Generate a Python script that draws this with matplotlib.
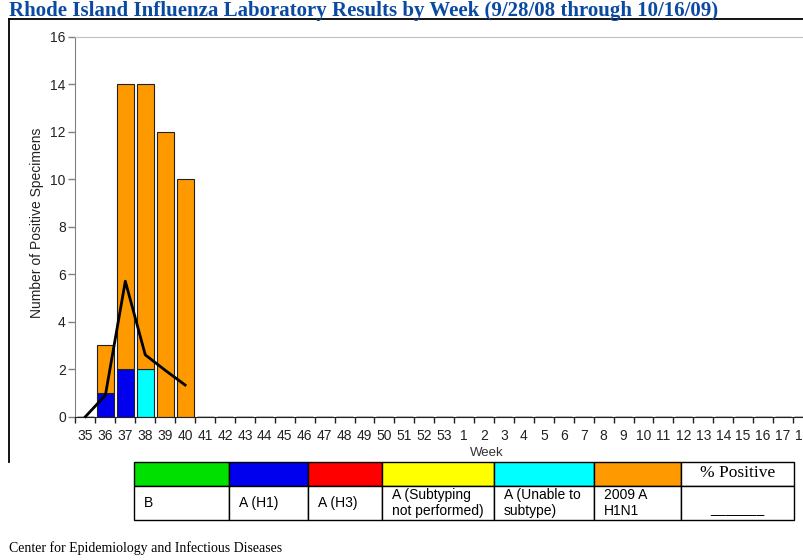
import matplotlib
matplotlib.use("Agg")
import matplotlib.pyplot as plt
from matplotlib.patches import Rectangle
from matplotlib.lines import Line2D

# ---------------- data ----------------
weeks = [str(w) for w in range(35, 54)] + [str(w) for w in range(1, 19)]
n = len(weeks)

def pad(vals):
    return vals + [0] * (n - len(vals))

# weeks 35..40 then zeros
b_vals          = pad([0, 0, 0, 0, 0, 0])
a_h1_vals       = pad([0, 1, 2, 0, 0, 0])
a_h3_vals       = pad([0, 0, 0, 0, 0, 0])
a_notsub_vals   = pad([0, 0, 0, 0, 0, 0])
a_unable_vals   = pad([0, 0, 0, 2, 0, 0])
h1n1_2009_vals  = pad([0, 2, 12, 12, 12, 10])
pct_positive    = [0.0, 0.9, 5.7, 2.6, 1.95, 1.33]

series_names  = ["B", "A (H1)", "A (H3)", "A (Subtyping\nnot performed)",
                 "A (Unable to\nsubtype)", "2009 A\nH1N1"]
series_values = [b_vals, a_h1_vals, a_h3_vals, a_notsub_vals, a_unable_vals, h1n1_2009_vals]
series_colors = ["#00E000", "#0000EE", "#FF0000", "#FFFF00", "#00FFFF", "#FF9900"]

yticks = list(range(0, 17, 2))

title = "Rhode Island Influenza Laboratory Results by Week (9/28/08 through 10/16/09)"
footer = "Center for Epidemiology and Infectious Diseases"

# ---------------- figure ----------------
W, H = 804, 560
fig = plt.figure(figsize=(W / 100, H / 100), dpi=100)
fig.patch.set_facecolor("white")

SANS = ["Liberation Sans", "DejaVu Sans"]
SERIF = ["Liberation Serif", "DejaVu Serif"]

def fx(x):
    return x / W

def fy(y):
    return 1 - y / H

cat_w = 19.93
ax_left, ax_top, ax_bottom = 75.5, 36.5, 416.6
ax = fig.add_axes([fx(ax_left), fy(ax_bottom), (n * cat_w) / W, (ax_bottom - ax_top) / H])

x = list(range(n))
bottom = [0] * n
for vals, col in zip(series_values, series_colors):
    ax.bar(x, vals, width=0.85, bottom=bottom, color=col, edgecolor="#222222",
           linewidth=0.8, zorder=2)
    bottom = [bb + v for bb, v in zip(bottom, vals)]

ax.plot(list(range(len(pct_positive))), pct_positive, color="black", lw=2.0,
        zorder=3, clip_on=False)

ax.set_xlim(-0.5, n - 0.5)
ax.set_ylim(0, 16)

# major ticks at category boundaries (marks only), minor at centres (labels)
ax.set_xticks([i - 0.5 for i in range(n + 1)])
ax.set_xticklabels([])
ax.set_xticks(x, minor=True)
ax.set_xticklabels(weeks, minor=True, fontsize=10, family=SANS, color="#222222")
ax.tick_params(axis="x", which="major", direction="out", length=4, width=1, color="#222222")
ax.tick_params(axis="x", which="minor", length=0, pad=9)

ax.set_yticks(yticks)
ax.set_yticklabels([str(t) for t in yticks], fontsize=10, family=SANS, color="#222222")
ax.tick_params(axis="y", direction="out", length=5, width=1, color="#808080", pad=2)

ax.spines["right"].set_visible(False)
ax.spines["top"].set_color("#c0c0c0")
ax.spines["left"].set_color("#808080")
ax.spines["bottom"].set_color("#222222")

fig.text(fx(37), fy(223), "Number of Positive Specimens", rotation=90, ha="center",
         va="center", fontsize=10, family=SANS, color="#222222")
fig.text(fx(487), fy(453), "Week", ha="center", va="center", fontsize=9.5,
         family=SANS, color="#333333")

# title and frame
fig.text(fx(9), fy(16), title, ha="left", va="baseline", fontsize=15,
         fontweight="bold", family=SERIF, color="#0B4AA2")
fig.add_artist(Line2D([fx(9), fx(804)], [fy(19), fy(19)], color="black", lw=1.3,
                      transform=fig.transFigure))
fig.add_artist(Line2D([fx(9), fx(9)], [fy(19), fy(462)], color="black", lw=1.3,
                      transform=fig.transFigure))

# legend table
cols = [134, 229, 308, 382, 494, 594, 681, 794]
rows = [462, 486, 520]
for i in range(len(cols) - 1):
    x0, x1 = cols[i], cols[i + 1]
    fc = series_colors[i] if i < len(series_colors) else "white"
    fig.add_artist(Rectangle((fx(x0), fy(rows[1])), (x1 - x0) / W, (rows[1] - rows[0]) / H,
                             facecolor=fc, edgecolor="black", lw=1.0,
                             transform=fig.transFigure))
    fig.add_artist(Rectangle((fx(x0), fy(rows[2])), (x1 - x0) / W, (rows[2] - rows[1]) / H,
                             facecolor="white", edgecolor="black", lw=1.0,
                             transform=fig.transFigure))
    if i < len(series_names):
        fig.text(fx(x0 + 10), fy(503), series_names[i], ha="left", va="center",
                 fontsize=10, family=SANS, color="black", linespacing=1.15)

fig.text(fx((cols[-2] + cols[-1]) / 2), fy(473), "% Positive", ha="center", va="center",
         fontsize=12.5, family=SERIF, color="black")
fig.text(fx((cols[-2] + cols[-1]) / 2), fy(509), "_______", ha="center", va="center",
         fontsize=10, family=SANS, color="black")

fig.text(fx(9), fy(548), footer, ha="left", va="center", fontsize=10, family=SERIF,
         color="black")

fig.savefig("out.png", dpi=100)
